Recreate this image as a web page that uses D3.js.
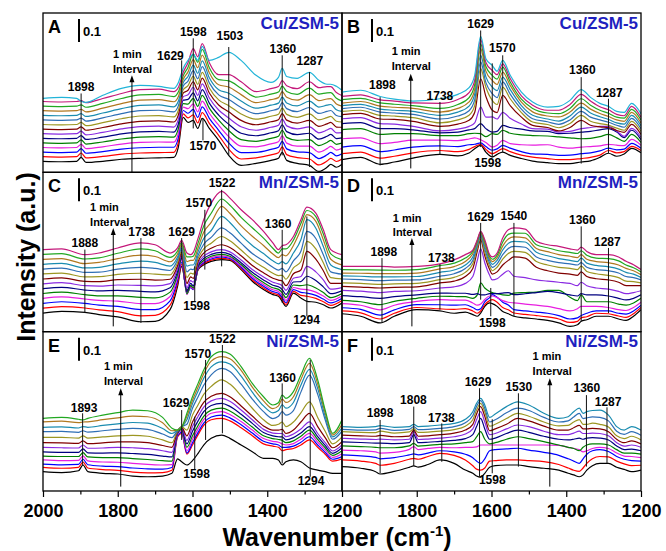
<!DOCTYPE html>
<html>
<head>
<meta charset="utf-8">
<script src="https://cdn.jsdelivr.net/npm/d3@7/dist/d3.min.js"></script>
<style>
body { margin: 0; background: #fff; }
text { font-family: "Liberation Sans", Arial, sans-serif; font-weight: bold; }
</style>
</head>
<body>
<svg width="666" height="551"></svg>
<script>
// one colour per spectrum, first spectrum (t = 0) at the bottom
var colors = ["#000000","#ff0000","#0000ff","#e81ee0","#008000","#000080","#8a2be2","#800000",
              "#9c9622","#2f6fb5","#1a8cb0","#b07820","#22a822","#c4187a","#22b4d8"];

var ticksMajor = [2000, 1800, 1600, 1400, 1200],
    ticksMinor = [1900, 1700, 1500, 1300];

// rows: wavenumber, then absorbance (a.u.) of each spectrum, 1 min apart
var specA = [
[2000,.048,.068,.088,.108,.128,.148,.168,.188,.208,.228,.248,.268,.288,.308,.322],
[1950,.046,.066,.086,.106,.126,.146,.166,.186,.206,.226,.246,.266,.286,.306,.326],
[1910,.048,.068,.088,.108,.128,.148,.168,.188,.208,.228,.248,.268,.288,.308,.322],
[1898,.065,.084,.103,.122,.141,.160,.179,.198,.217,.236,.255,.274,.293,.312,.309],
[1885,.043,.063,.083,.103,.123,.143,.163,.183,.203,.223,.243,.263,.283,.303,.304],
[1840,.048,.069,.090,.111,.132,.153,.174,.195,.216,.237,.258,.279,.300,.321,.335],
[1790,.057,.079,.101,.123,.145,.167,.189,.211,.233,.255,.277,.299,.321,.343,.365],
[1740,.061,.084,.107,.130,.153,.176,.199,.222,.245,.268,.291,.314,.337,.360,.378],
[1690,.063,.086,.109,.132,.155,.178,.201,.224,.247,.270,.293,.316,.339,.362,.374],
[1650,.065,.087,.109,.131,.153,.175,.197,.219,.241,.263,.285,.307,.329,.351,.365],
[1638,.109,.129,.149,.169,.189,.209,.229,.249,.269,.289,.309,.329,.349,.369,.390],
[1625,.239,.254,.269,.284,.299,.314,.329,.344,.359,.374,.389,.404,.419,.434,.452],
[1612,.217,.237,.257,.277,.297,.317,.337,.357,.377,.397,.417,.437,.457,.477,.487],
[1598,.226,.250,.274,.298,.322,.346,.370,.394,.418,.442,.466,.490,.514,.538,.513],
[1586,.191,.215,.239,.263,.287,.311,.335,.359,.383,.407,.431,.455,.479,.503,.487],
[1574,.235,.260,.285,.310,.335,.360,.385,.410,.435,.460,.485,.510,.535,.560,.548],
[1555,.191,.213,.235,.257,.279,.301,.323,.345,.367,.389,.411,.433,.455,.477,.487],
[1530,.139,.161,.183,.205,.227,.249,.271,.293,.315,.337,.359,.381,.403,.425,.500],
[1503,.074,.101,.128,.155,.182,.209,.236,.263,.290,.317,.344,.371,.398,.425,.522],
[1470,.030,.058,.086,.114,.142,.170,.198,.226,.254,.282,.310,.338,.366,.394,.487],
[1430,.039,.063,.087,.111,.135,.159,.183,.207,.231,.255,.279,.303,.327,.351,.422],
[1390,.052,.076,.100,.124,.148,.172,.196,.220,.244,.268,.292,.316,.340,.364,.391],
[1370,.061,.085,.109,.133,.157,.181,.205,.229,.253,.277,.301,.325,.349,.373,.413],
[1360,.087,.111,.135,.159,.183,.207,.231,.255,.279,.303,.327,.351,.375,.399,.452],
[1348,.052,.077,.102,.127,.152,.177,.202,.227,.252,.277,.302,.327,.352,.377,.417],
[1320,.039,.064,.089,.114,.139,.164,.189,.214,.239,.264,.289,.314,.339,.364,.409],
[1287,.030,.058,.086,.114,.142,.170,.198,.226,.254,.282,.310,.338,.366,.394,.435],
[1262,.004,.032,.060,.088,.116,.144,.172,.200,.228,.256,.284,.312,.340,.368,.400],
[1240,.022,.049,.076,.103,.130,.157,.184,.211,.238,.265,.292,.319,.346,.373,.383],
[1230,.035,.061,.087,.113,.139,.165,.191,.217,.243,.269,.295,.321,.347,.373,.383],
[1215,.022,.047,.072,.097,.122,.147,.172,.197,.222,.247,.272,.297,.322,.347,.374],
[1200,.035,.058,.081,.104,.127,.150,.173,.196,.219,.242,.265,.288,.311,.334,.357]
];

var specB = [
[2000,.055,.081,.110,.146,.186,.212,.233,.251,.265,.277,.290,.301,.316,.330,.349],
[1950,.065,.088,.116,.150,.190,.216,.238,.256,.270,.283,.296,.308,.322,.337,.357],
[1898,.035,.062,.090,.125,.165,.190,.212,.232,.248,.262,.275,.288,.302,.315,.330],
[1860,.045,.070,.097,.130,.168,.190,.210,.230,.245,.258,.270,.283,.296,.310,.318],
[1810,.062,.085,.110,.140,.168,.185,.200,.222,.238,.252,.265,.278,.290,.302,.310],
[1738,.078,.095,.115,.140,.160,.172,.180,.200,.215,.232,.248,.262,.278,.300,.320],
[1690,.072,.090,.112,.138,.160,.175,.188,.210,.228,.245,.262,.278,.295,.317,.339],
[1660,.084,.100,.120,.145,.168,.185,.200,.226,.248,.268,.288,.306,.325,.347,.368],
[1645,.103,.112,.122,.150,.170,.190,.215,.260,.290,.315,.340,.360,.380,.400,.422],
[1629,.117,.122,.128,.142,.168,.212,.284,.407,.451,.480,.509,.538,.559,.577,.591],
[1615,.088,.100,.112,.130,.155,.190,.240,.330,.370,.390,.415,.440,.460,.478,.494],
[1598,.067,.081,.096,.110,.168,.175,.241,.270,.313,.342,.371,.400,.422,.443,.465],
[1585,.078,.090,.102,.118,.165,.178,.232,.260,.295,.325,.355,.382,.405,.425,.440],
[1570,.088,.103,.117,.139,.183,.204,.261,.335,.371,.393,.414,.436,.458,.472,.487],
[1550,.074,.090,.105,.125,.170,.195,.235,.290,.320,.340,.360,.378,.393,.408,.422],
[1520,.060,.075,.090,.120,.163,.188,.210,.240,.260,.275,.290,.305,.318,.333,.349],
[1490,.049,.066,.080,.118,.160,.180,.190,.204,.219,.233,.248,.263,.278,.292,.306],
[1450,.042,.060,.078,.120,.158,.178,.188,.195,.208,.220,.232,.245,.258,.270,.284],
[1420,.038,.055,.074,.110,.154,.168,.175,.180,.194,.209,.223,.241,.255,.270,.287],
[1390,.038,.055,.075,.105,.150,.170,.178,.195,.212,.228,.245,.262,.278,.295,.313],
[1360,.045,.060,.081,.110,.146,.175,.190,.226,.248,.265,.284,.301,.320,.339,.360],
[1335,.050,.065,.085,.112,.148,.178,.195,.205,.222,.240,.258,.275,.292,.310,.326],
[1310,.065,.075,.093,.115,.155,.185,.200,.198,.212,.228,.242,.256,.270,.285,.300],
[1287,.083,.095,.105,.122,.165,.190,.200,.195,.205,.218,.230,.243,.257,.272,.287],
[1265,.070,.085,.098,.118,.150,.175,.180,.182,.192,.205,.215,.228,.240,.252,.265],
[1245,.080,.090,.101,.116,.135,.151,.157,.174,.183,.196,.210,.222,.236,.246,.261],
[1225,.104,.113,.126,.143,.165,.183,.191,.209,.222,.235,.248,.261,.274,.287,.300],
[1200,.085,.095,.105,.117,.130,.142,.153,.165,.178,.190,.203,.215,.228,.240,.255]
];

var specC = [
[2000,.081,.102,.123,.145,.166,.187,.208,.229,.251,.272,.293,.314,.336,.357],
[1950,.088,.109,.130,.151,.172,.193,.213,.234,.255,.276,.297,.318,.339,.360],
[1888,.084,.103,.123,.142,.161,.181,.200,.219,.238,.258,.277,.296,.316,.335],
[1850,.074,.095,.115,.136,.156,.177,.198,.218,.239,.259,.280,.301,.321,.342],
[1800,.064,.087,.110,.133,.156,.180,.203,.226,.249,.272,.295,.318,.341,.364],
[1738,.043,.069,.096,.122,.149,.175,.201,.228,.254,.280,.307,.333,.360,.386],
[1700,.045,.071,.096,.122,.147,.173,.199,.224,.250,.275,.301,.327,.352,.378],
[1660,.096,.115,.134,.153,.172,.191,.209,.228,.247,.266,.285,.304,.323,.342],
[1640,.197,.210,.223,.236,.248,.261,.274,.287,.300,.313,.325,.338,.351,.364],
[1629,.284,.293,.301,.310,.319,.327,.336,.345,.353,.362,.371,.380,.388,.397],
[1615,.180,.172,.165,.162,.165,.175,.190,.210,.235,.260,.285,.305,.325,.342],
[1605,.200,.195,.192,.195,.200,.210,.222,.238,.255,.272,.290,.310,.325,.335],
[1598,.190,.185,.183,.185,.190,.200,.215,.232,.250,.270,.290,.310,.328,.345],
[1585,.270,.272,.275,.278,.282,.288,.295,.305,.318,.332,.348,.365,.386,.407],
[1570,.291,.295,.300,.305,.310,.318,.328,.342,.360,.380,.405,.432,.460,.487],
[1550,.306,.311,.316,.322,.328,.336,.347,.363,.385,.410,.440,.475,.515,.559],
[1522,.313,.319,.325,.330,.336,.345,.357,.378,.414,.451,.501,.545,.577,.610],
[1500,.310,.314,.318,.323,.328,.336,.347,.366,.395,.430,.475,.515,.550,.581],
[1470,.270,.275,.280,.286,.292,.300,.312,.330,.355,.385,.420,.460,.497,.530],
[1440,.219,.225,.232,.240,.248,.258,.270,.288,.312,.340,.375,.415,.452,.487],
[1410,.183,.190,.197,.205,.214,.225,.238,.256,.280,.308,.340,.375,.407,.436],
[1385,.161,.167,.174,.182,.191,.202,.215,.232,.254,.280,.308,.338,.363,.386],
[1370,.154,.160,.167,.175,.184,.195,.208,.224,.244,.268,.295,.322,.342,.357],
[1360,.132,.140,.148,.158,.170,.183,.200,.220,.245,.275,.305,.335,.360,.374],
[1350,.110,.118,.126,.136,.148,.162,.180,.200,.228,.260,.295,.330,.360,.378],
[1330,.168,.175,.183,.192,.203,.216,.232,.252,.277,.308,.342,.375,.398,.414],
[1310,.146,.158,.171,.185,.200,.218,.240,.268,.305,.350,.400,.445,.470,.487],
[1294,.132,.154,.168,.183,.204,.241,.284,.349,.393,.436,.487,.509,.527,.542],
[1270,.128,.145,.158,.172,.190,.222,.260,.315,.360,.405,.450,.480,.500,.516],
[1250,.117,.130,.142,.155,.170,.195,.225,.265,.300,.335,.370,.400,.425,.443],
[1230,.103,.114,.125,.136,.148,.165,.185,.210,.235,.260,.290,.315,.338,.357],
[1200,.125,.135,.145,.155,.166,.178,.192,.210,.230,.250,.270,.290,.313,.335]
];

var specD = [
[2000,.078,.090,.104,.122,.136,.157,.180,.197,.212,.229,.243,.255,.270,.284],
[1950,.067,.082,.097,.115,.130,.152,.176,.194,.210,.226,.241,.254,.269,.284],
[1898,.038,.055,.072,.095,.118,.145,.170,.190,.206,.222,.238,.252,.268,.284],
[1860,.067,.080,.095,.115,.132,.152,.175,.193,.208,.224,.238,.252,.267,.281],
[1800,.096,.105,.118,.132,.145,.160,.178,.195,.210,.225,.240,.255,.270,.284],
[1738,.090,.099,.117,.139,.154,.168,.190,.212,.226,.241,.258,.273,.287,.295],
[1700,.080,.097,.115,.137,.153,.167,.195,.220,.236,.252,.268,.283,.298,.312],
[1670,.085,.100,.117,.137,.152,.167,.210,.240,.258,.275,.290,.305,.320,.335],
[1650,.074,.090,.105,.125,.145,.162,.240,.275,.295,.310,.325,.340,.350,.355],
[1638,.067,.080,.095,.115,.160,.165,.310,.350,.365,.375,.385,.390,.395,.400],
[1629,.081,.090,.100,.120,.212,.160,.360,.400,.410,.418,.425,.430,.434,.436],
[1618,.110,.118,.130,.140,.190,.160,.300,.330,.345,.360,.372,.382,.392,.400],
[1605,.125,.135,.148,.155,.175,.165,.245,.270,.285,.298,.310,.318,.327,.335],
[1598,.122,.139,.161,.155,.170,.165,.225,.250,.265,.280,.293,.305,.315,.325],
[1585,.110,.128,.150,.148,.165,.165,.230,.260,.280,.295,.310,.322,.333,.342],
[1570,.088,.105,.128,.135,.160,.168,.250,.290,.315,.335,.355,.372,.390,.407],
[1555,.078,.095,.116,.128,.158,.170,.265,.310,.340,.362,.384,.403,.423,.443],
[1540,.067,.081,.096,.125,.168,.161,.241,.325,.349,.371,.393,.412,.429,.451],
[1510,.060,.075,.090,.120,.170,.165,.235,.320,.345,.367,.390,.408,.428,.446],
[1480,.055,.070,.085,.115,.172,.170,.225,.280,.305,.325,.345,.362,.378,.393],
[1450,.049,.064,.080,.110,.180,.175,.220,.265,.290,.310,.330,.348,.365,.378],
[1420,.038,.055,.070,.100,.180,.170,.215,.255,.280,.300,.318,.335,.352,.371],
[1390,.023,.040,.055,.090,.150,.160,.210,.250,.275,.295,.310,.328,.345,.360],
[1370,.030,.045,.060,.100,.135,.155,.200,.245,.270,.290,.305,.322,.340,.355],
[1360,.045,.060,.070,.110,.160,.165,.215,.260,.285,.300,.320,.335,.352,.368],
[1345,.052,.065,.080,.110,.130,.160,.200,.240,.262,.280,.298,.315,.332,.349],
[1320,.067,.080,.090,.110,.130,.160,.190,.230,.252,.270,.288,.305,.320,.335],
[1287,.067,.078,.090,.105,.130,.155,.185,.225,.245,.265,.282,.300,.318,.335],
[1260,.055,.068,.080,.096,.120,.145,.175,.215,.235,.255,.272,.290,.308,.325],
[1240,.049,.062,.076,.092,.115,.138,.165,.200,.220,.240,.258,.275,.290,.306],
[1220,.067,.078,.090,.105,.125,.145,.170,.200,.218,.235,.250,.265,.278,.291],
[1200,.096,.105,.115,.128,.145,.160,.178,.200,.212,.225,.236,.248,.260,.270]
];

var specE = [
[2000,.084,.103,.117,.135,.152,.170,.190,.210,.233,.258,.277,.301,.316],
[1950,.080,.099,.114,.132,.150,.168,.188,.209,.233,.259,.279,.304,.320],
[1905,.088,.103,.116,.133,.150,.168,.187,.207,.230,.255,.274,.297,.312],
[1893,.113,.126,.138,.153,.167,.183,.200,.218,.240,.262,.280,.300,.309],
[1880,.084,.100,.114,.131,.148,.166,.186,.206,.230,.256,.277,.301,.316],
[1840,.077,.093,.108,.126,.145,.165,.187,.209,.235,.262,.285,.310,.330],
[1800,.074,.090,.106,.125,.145,.166,.190,.214,.240,.268,.292,.318,.341],
[1760,.065,.082,.100,.120,.141,.163,.188,.214,.242,.272,.298,.326,.352],
[1720,.062,.079,.096,.116,.137,.159,.184,.210,.238,.268,.295,.323,.349],
[1680,.065,.080,.095,.113,.132,.152,.175,.198,.222,.248,.272,.297,.320],
[1655,.077,.090,.102,.115,.130,.148,.168,.190,.210,.232,.250,.262,.273],
[1640,.140,.235,.240,.245,.250,.254,.257,.260,.262,.263,.264,.265,.265],
[1629,.127,.250,.255,.262,.268,.272,.275,.278,.280,.280,.278,.278,.277],
[1615,.113,.160,.165,.175,.190,.205,.220,.240,.265,.290,.310,.325,.338],
[1600,.132,.200,.210,.225,.240,.260,.280,.300,.330,.360,.380,.395,.410],
[1585,.164,.245,.255,.270,.285,.305,.325,.345,.375,.410,.435,.452,.468],
[1570,.200,.285,.295,.310,.325,.345,.365,.385,.420,.460,.490,.510,.526],
[1550,.229,.310,.322,.338,.352,.372,.392,.412,.455,.505,.540,.565,.584],
[1522,.243,.316,.330,.345,.360,.381,.403,.425,.483,.533,.562,.584,.606],
[1500,.229,.305,.318,.333,.348,.368,.390,.410,.465,.520,.552,.575,.596],
[1470,.200,.275,.288,.302,.316,.334,.352,.370,.415,.465,.500,.525,.541],
[1440,.171,.240,.252,.265,.278,.294,.310,.326,.360,.400,.430,.452,.468],
[1410,.142,.205,.216,.228,.240,.254,.268,.283,.310,.345,.370,.392,.410],
[1385,.142,.195,.205,.216,.228,.240,.252,.265,.285,.315,.340,.358,.374],
[1370,.135,.190,.200,.212,.224,.236,.250,.265,.290,.325,.350,.370,.384],
[1360,.113,.175,.190,.205,.220,.235,.250,.268,.300,.345,.375,.400,.417],
[1350,.127,.180,.190,.200,.210,.222,.236,.250,.280,.330,.360,.385,.403],
[1330,.135,.185,.195,.206,.218,.232,.248,.265,.300,.350,.385,.410,.432],
[1310,.127,.200,.212,.225,.238,.252,.270,.300,.340,.430,.460,.485,.504],
[1287,.100,.222,.236,.251,.265,.280,.301,.338,.388,.504,.529,.555,.577],
[1265,.091,.190,.200,.212,.224,.236,.250,.280,.320,.420,.445,.465,.483],
[1245,.084,.160,.168,.178,.188,.198,.210,.232,.260,.310,.325,.340,.352],
[1225,.077,.130,.138,.146,.155,.164,.174,.188,.205,.225,.235,.243,.251],
[1200,.077,.140,.150,.162,.175,.188,.200,.215,.235,.260,.275,.290,.310]
];

var specF = [
[2000,.106,.135,.157,.178,.196,.214,.229,.243,.258,.268,.280],
[1950,.099,.130,.153,.175,.193,.211,.226,.240,.255,.265,.277],
[1910,.084,.120,.146,.170,.190,.208,.224,.238,.254,.266,.280],
[1898,.074,.112,.140,.165,.188,.208,.226,.242,.260,.272,.284],
[1860,.085,.120,.145,.168,.188,.206,.222,.236,.252,.264,.277],
[1820,.103,.138,.157,.181,.196,.210,.225,.239,.257,.268,.280],
[1808,.109,.142,.161,.193,.207,.245,.258,.265,.271,.280,.290],
[1796,.104,.138,.157,.180,.195,.210,.224,.238,.255,.267,.280],
[1770,.115,.150,.165,.185,.198,.212,.226,.240,.256,.268,.282],
[1738,.135,.164,.175,.190,.203,.216,.230,.245,.260,.272,.287],
[1700,.120,.155,.170,.188,.205,.220,.236,.252,.267,.280,.294],
[1670,.091,.135,.160,.190,.210,.228,.248,.265,.282,.297,.312],
[1650,.077,.110,.145,.190,.215,.245,.270,.290,.310,.328,.345],
[1640,.065,.095,.130,.192,.235,.280,.310,.335,.352,.368,.381],
[1629,.060,.091,.120,.200,.258,.316,.345,.367,.381,.393,.403],
[1618,.077,.100,.140,.200,.225,.270,.300,.325,.345,.360,.374],
[1605,.103,.130,.175,.200,.205,.225,.245,.262,.282,.300,.320],
[1590,.110,.132,.180,.200,.210,.230,.250,.270,.290,.310,.335],
[1560,.113,.135,.183,.200,.225,.250,.270,.290,.315,.340,.367],
[1530,.113,.135,.186,.200,.236,.265,.287,.316,.338,.360,.388],
[1500,.106,.132,.178,.200,.228,.255,.280,.305,.325,.350,.374],
[1460,.099,.128,.168,.200,.215,.238,.260,.282,.300,.320,.338],
[1420,.091,.115,.155,.198,.200,.225,.245,.265,.283,.300,.316],
[1395,.077,.100,.140,.190,.190,.222,.245,.265,.285,.305,.323],
[1380,.070,.090,.130,.185,.185,.225,.252,.275,.300,.322,.345],
[1365,.062,.085,.120,.180,.175,.230,.260,.285,.310,.338,.360],
[1355,.070,.100,.140,.170,.190,.225,.250,.270,.290,.315,.338],
[1345,.091,.120,.160,.175,.200,.230,.250,.270,.290,.318,.345],
[1330,.110,.140,.175,.185,.205,.232,.252,.272,.295,.322,.350],
[1310,.120,.150,.180,.190,.205,.230,.250,.270,.290,.320,.352],
[1287,.120,.148,.172,.185,.200,.222,.240,.258,.278,.305,.330],
[1265,.103,.130,.150,.165,.180,.196,.210,.225,.240,.260,.280],
[1245,.094,.118,.138,.152,.165,.180,.195,.210,.228,.246,.265],
[1225,.084,.110,.132,.150,.165,.182,.200,.218,.238,.258,.280],
[1200,.091,.112,.130,.145,.160,.175,.190,.205,.222,.242,.265]
];

// peak marks: label, wavenumber of the line, wavenumber of the label,
// label height, line top, line bottom (a.u.)
var peaksA = [["1898",1898,1898,.355,.343,.061],["1629",1629,1659,.490,.487,.326],
  ["1598",1598,1598,.591,.583,.191],["1503",1503,1500,.574,.545,.074],
  ["1570",1572,1572,.096,.235,.139],["1360",1360,1358,.519,.509,.074],["1287",1287,1286,.465,.436,.023]];
var peaksB = [["1898",1898,1892,.364,.327,.030],["1738",1738,1738,.313,.306,.078],
  ["1629",1629,1629,.629,.617,.110],["1570",1570,1571,.523,.509,.088],
  ["1598",1598,1610,.023,.474,.065],["1360",1360,1357,.426,.414,.038],["1287",1287,1285,.327,.320,.084]];
var peaksC = [["1888",1888,1888,.368,.357,.081],["1738",1738,1736,.417,.407,.038],
  ["1629",1629,1629,.417,.407,.313],["1570",1567,1583,.542,.530,.270],["1522",1522,1521,.629,.617,.284],
  ["1598",1594,1589,.096,.284,.132],["1360",1360,1371,.453,.443,.125],["1294",1294,1295,.035,.501,.067]];
var peaksD = [["1898",1893,1888,.330,.320,.038],["1738",1738,1734,.301,.294,.096],
  ["1629",1629,1629,.483,.473,.139],["1540",1540,1540,.487,.473,.067],
  ["1598",1602,1598,.020,.190,.067],["1360",1360,1357,.468,.458,.045],["1287",1287,1290,.374,.364,.081]];
var peaksE = [["1893",1894,1890,.345,.338,.113],["1629",1629,1644,.364,.352,.222],
  ["1570",1565,1586,.577,.570,.222],["1522",1520,1520,.645,.635,.251],
  ["1598",1594,1589,.055,.323,.091],["1360",1360,1359,.475,.468,.120],["1294",1285,1283,.026,.570,.062]];
var peaksF = [["1898",1898,1898,.320,.309,.077],["1808",1808,1809,.378,.367,.109],
  ["1738",1733,1734,.301,.294,.127],["1629",1632,1636,.457,.447,.062],["1530",1528,1527,.435,.425,.106],
  ["1598",1598,1598,.030,.312,.077],["1360",1346,1345,.432,.417,.106],["1287",1291,1288,.370,.364,.120]];

// "1 min Interval": text wavenumber, "1 min" height, "Interval" height, arrow wavenumber, arrow from, arrow to
var intA = [1813,.496,.432,1762,0,.422],
    intB = [1867,.509,.447,1816,.017,.429],
    intC = [1874,.523,.458,1812,.023,.451],
    intD = [1864,.477,.414,1813,.023,.407],
    intE = [1837,.526,.461,1792,.019,.447],
    intF = [1490,.570,.504,1444,.019,.490];

var panels = [
  {id: "A", cat: "Cu/ZSM-5", data: specA, peaks: peaksA, iv: intA, col: 0, row: 0},
  {id: "B", cat: "Cu/ZSM-5", data: specB, peaks: peaksB, iv: intB, col: 1, row: 0},
  {id: "C", cat: "Mn/ZSM-5", data: specC, peaks: peaksC, iv: intC, col: 0, row: 1},
  {id: "D", cat: "Mn/ZSM-5", data: specD, peaks: peaksD, iv: intD, col: 1, row: 1},
  {id: "E", cat: "Ni/ZSM-5", data: specE, peaks: peaksE, iv: intE, col: 0, row: 2},
  {id: "F", cat: "Ni/ZSM-5", data: specF, peaks: peaksF, iv: intF, col: 1, row: 2}
];

var svg = d3.select("svg"),
    margin = {top: 13, left: 43},
    pw = 299,
    ph = 159.33,
    yMax = 0.693;

panels.forEach(function(p) {
  var g = svg.append("g")
      .attr("transform", "translate(" + (margin.left + p.col * pw) + "," + (margin.top + p.row * ph) + ")");

  var x = d3.scaleLinear().domain([2000, 1200]).range([0, pw]),
      y = d3.scaleLinear().domain([0, yMax]).range([ph, 0]);

  g.append("clipPath").attr("id", "clip" + p.id)
    .append("rect").attr("width", pw).attr("height", ph);

  var lines = g.append("g").attr("clip-path", "url(#clip" + p.id + ")");
  var n = p.data[0].length - 1;
  d3.range(n).forEach(function(k) {
    var line = d3.line()
        .x(function(d) { return x(d[0]); })
        .y(function(d) { return y(d[k + 1]); })
        .curve(d3.curveMonotoneX);
    lines.append("path")
        .datum(p.data)
        .attr("fill", "none")
        .attr("stroke", colors[k])
        .attr("stroke-width", 1.2)
        .attr("d", line);
  });

  p.peaks.forEach(function(pk) {
    g.append("line")
        .attr("x1", x(pk[1])).attr("x2", x(pk[1]))
        .attr("y1", y(pk[4])).attr("y2", y(pk[5]))
        .attr("stroke", "#111").attr("stroke-width", 1);
    g.append("text")
        .attr("x", x(pk[2])).attr("y", y(pk[3]))
        .attr("text-anchor", "middle")
        .style("font-size", "12px")
        .text(pk[0]);
  });

  // time arrow
  var iv = p.iv, ax = x(iv[3]), ay = y(iv[5]);
  g.append("text").attr("x", x(iv[0])).attr("y", y(iv[1])).style("font-size", "11px").text("1 min");
  g.append("text").attr("x", x(iv[0])).attr("y", y(iv[2])).style("font-size", "11px").text("Interval");
  g.append("line")
      .attr("x1", ax).attr("x2", ax)
      .attr("y1", y(iv[4])).attr("y2", ay + 5)
      .attr("stroke", "#000").attr("stroke-width", 1);
  g.append("path")
      .attr("d", "M" + ax + "," + ay + "l-2.5,7h5z")
      .attr("fill", "#000");

  g.append("rect")
      .attr("width", pw).attr("height", ph)
      .attr("fill", "none").attr("stroke", "#000").attr("stroke-width", 1.3);

  g.append("text").attr("x", 5).attr("y", 20).style("font-size", "18px").text(p.id);

  var bx = p.col ? 30 : 36;
  g.append("line")
      .attr("x1", bx).attr("x2", bx)
      .attr("y1", 6).attr("y2", 6 + y(0) - y(0.1))
      .attr("stroke", "#000").attr("stroke-width", 2);
  g.append("text").attr("x", bx + 4).attr("y", 23).style("font-size", "13px").text("0.1");

  g.append("text")
      .attr("x", pw - 3).attr("y", 15.5)
      .attr("text-anchor", "end")
      .attr("fill", "#1f1fbf")
      .style("font-size", "17px")
      .text(p.cat);

  if (p.row == 2) {
    var ax1 = g.append("g")
        .attr("transform", "translate(0," + ph + ")")
        .call(d3.axisBottom(x)
            .tickValues(p.col ? ticksMajor.slice(1) : ticksMajor)
            .tickSize(6).tickPadding(7)
            .tickFormat(d3.format("d")));
    ax1.select(".domain").remove();
    ax1.selectAll("line").attr("stroke-width", 1.2);
    ax1.selectAll("text").style("font-size", "18px");

    var ax2 = g.append("g")
        .attr("transform", "translate(0," + ph + ")")
        .call(d3.axisBottom(x).tickValues(ticksMinor).tickSize(3.5).tickFormat(""));
    ax2.select(".domain").remove();
    ax2.selectAll("line").attr("stroke-width", 1.2);
  }
});

var xt = svg.append("text")
    .attr("x", 337).attr("y", 546)
    .attr("text-anchor", "middle")
    .style("font-size", "25px")
    .text("Wavenumber (cm");
xt.append("tspan").attr("dy", -10).style("font-size", "15px").text("-1");
xt.append("tspan").attr("dy", 10).text(")");

svg.append("text")
    .attr("transform", "translate(35,257) rotate(-90)")
    .attr("text-anchor", "middle")
    .style("font-size", "25px")
    .text("Intensity (a.u.)");
</script>
</body>
</html>
